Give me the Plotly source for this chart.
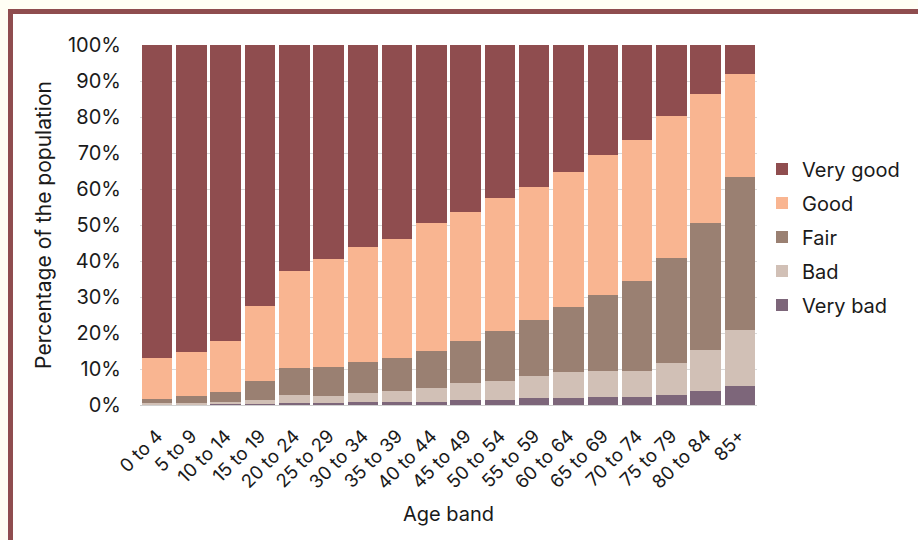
import plotly.graph_objects as go

age_bands = ["0 to 4", "5 to 9", "10 to 14", "15 to 19", "20 to 24", "25 to 29",
             "30 to 34", "35 to 39", "40 to 44", "45 to 49", "50 to 54", "55 to 59",
             "60 to 64", "65 to 69", "70 to 74", "75 to 79", "80 to 84", "85+"]

very_bad = [0.15, 0.15, 0.2, 0.3, 0.5, 0.5, 0.8, 0.8, 0.9, 1.5, 1.5, 2.0, 2.0, 2.3, 2.3, 2.7, 3.9, 5.3]
bad = [0.4, 0.45, 0.7, 1.1, 2.3, 2.0, 2.45, 3.1, 3.7, 4.5, 5.2, 6.1, 7.2, 7.1, 7.1, 9.1, 11.3, 15.5]
fair = [1.2, 1.9, 2.8, 5.35, 7.6, 8.1, 8.65, 9.2, 10.4, 11.9, 13.9, 15.4, 18.1, 21.2, 25.0, 29.1, 35.3, 42.5]
good = [11.35, 12.1, 14.0, 20.65, 26.8, 29.9, 32.1, 32.9, 35.5, 35.7, 36.9, 37.0, 37.5, 38.9, 39.1, 39.4, 35.9, 28.6]
very_good = [86.9, 85.4, 82.3, 72.6, 62.8, 59.5, 56.0, 54.0, 49.5, 46.4, 42.5, 39.5, 35.2, 30.5, 26.5, 19.7, 13.6, 8.1]

series = [
    ("Very bad", very_bad, "#7d667a", 5),
    ("Bad", bad, "#d1c0b6", 4),
    ("Fair", fair, "#9a8072", 3),
    ("Good", good, "#f9b591", 2),
    ("Very good", very_good, "#8f4d4f", 1),
]

fig = go.Figure()
for name, vals, color, rank in series:
    fig.add_trace(go.Bar(
        x=age_bands, y=vals, name=name, legendgroup=name, legendrank=rank,
        marker=dict(color=color, line=dict(width=0)),
        hovertemplate="%{x}: %{y}%<extra>" + name + "</extra>",
    ))

W, H = 918, 540
L, R, T, B = 140, 757, 45, 405
pw, ph = R - L, B - T

def px(x):
    return (x - L) / pw

def py(y):
    return (B - y) / ph

font = "Inter, Roboto, sans-serif"
txt = "#1a1a1a"

fig.update_layout(
    width=W, height=H,
    barmode="stack", bargap=0.11,
    paper_bgcolor="#fffef4", plot_bgcolor="white",
    margin=dict(l=L, r=W - R, t=T, b=H - B, pad=0),
    font=dict(family=font, size=18, color=txt),
    shapes=[dict(type="rect", xref="paper", yref="paper",
                 x0=px(10.5), x1=px(930), y0=py(560), y1=py(11.5),
                 line=dict(color="#8f4d4f", width=5), fillcolor="white", layer="below")],
    legend=dict(x=px(762), xanchor="left", y=py(237), yanchor="middle",
                traceorder="grouped", tracegroupgap=5,
                font=dict(family=font, size=20, color=txt),
                bgcolor="rgba(0,0,0,0)", itemwidth=30),
    xaxis=dict(tickangle=-45, showgrid=False, showline=True, linecolor="#d0d0d0", linewidth=1,
               ticks="", ticklabelstandoff=12,
               tickfont=dict(family=font, size=18.5, color=txt),
               title=dict(text="Age band", font=dict(family=font, size=20, color=txt), standoff=14)),
    yaxis=dict(range=[0, 100], dtick=10, ticksuffix="%", showgrid=True, gridcolor="#d9d9d9",
               gridwidth=1, zeroline=False, ticks="", ticklabelstandoff=18,
               tickfont=dict(family=font, size=20, color=txt),
               title=dict(text="Percentage of the population", font=dict(family=font, size=21, color=txt), standoff=10)),
)

fig.write_html("out.html", config={"displayModeBar": False},
               post_script="document.body.style.margin='0';document.body.style.background='#fffef4';")
